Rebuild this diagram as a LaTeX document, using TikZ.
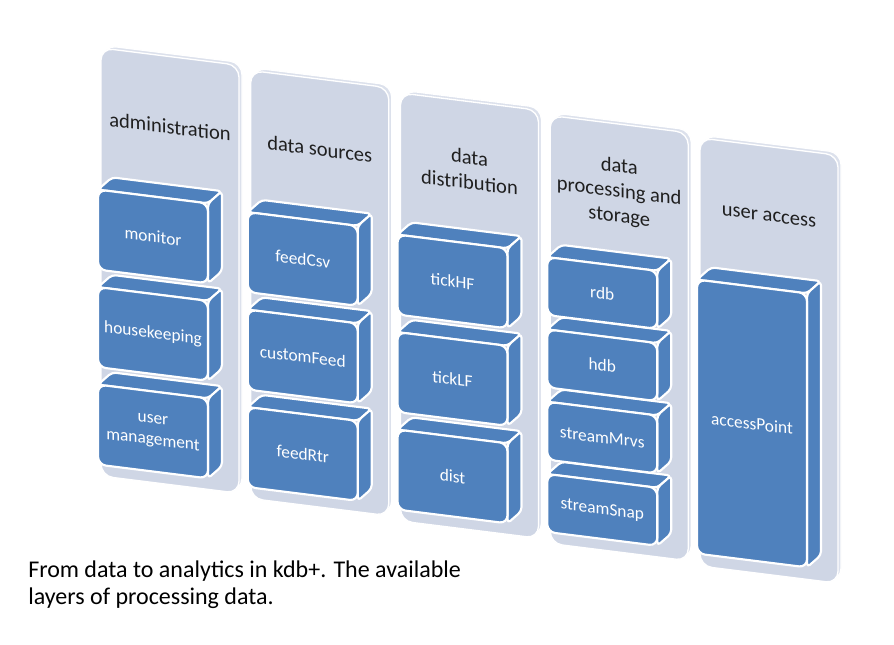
\documentclass[tikz,border=0pt]{standalone}
\usepackage{fontspec}
\setmainfont{Carlito}
\definecolor{panelfill}{HTML}{CFD6E5}
\definecolor{panelrim}{HTML}{DCE1EC}
\definecolor{boxblue}{HTML}{4F81BD}
\tikzset{
  panelfront/.style={fill=panelfill, draw=white, line width=1pt, rounded corners=9pt},
  panelback/.style={fill=panelrim, draw=white, line width=1pt, rounded corners=9pt},
  boxface/.style={fill=boxblue, draw=white, line width=1.6pt, line join=round},
  frontface/.style={boxface, rounded corners=6pt},
  headtext/.style={text=black!88, font=\fontsize{15.4}{18.8}\selectfont, align=center, transform shape, inner sep=0pt},
  boxtext/.style={text=white, font=\fontsize{13}{16}\selectfont, align=center, transform shape, inner sep=0pt},
  captext/.style={text=black, font=\fontsize{18}{20}\selectfont, anchor=base west, inner sep=0pt},
}
\newcommand{\layerbox}[4]{% name, top, height, label
  \draw[boxface, rounded corners=3pt] (-3,#2) -- (11,#2-14) -- (121,#2-14) -- (107,#2) -- cycle;
  \draw[boxface, rounded corners=3pt] (107,#2) -- (121,#2-14) -- (121,#2+#3-14) -- (107,#2+#3) -- cycle;
  \draw[frontface] (-3,#2) rectangle (107,#2+#3);
  \node[boxtext] (#1) at (52,#2+#3/2) {#4};
}
\newcommand{\layerpanel}{%
  \draw[panelback] (3,-3) rectangle (141,425);
  \draw[panelfront] (0,0) rectangle (138,428);
}
\begin{document}
\begin{tikzpicture}[x=0.75pt, y=-0.75pt]
\fill[white] (0,0) rectangle (894,645);
\useasboundingbox (0,0) rectangle (894,645);

% column 1
\begin{scope}[shift={(101,48)}, yslant=-0.125]
  \layerpanel
  \node[headtext] (h1) at (69,70) {administration};
  \layerbox{usermgmt}{337}{80}{user\\management}
  \layerbox{housekeeping}{239.5}{80}{housekeeping}
  \layerbox{monitor}{142}{80}{monitor}
\end{scope}

% column 2
\begin{scope}[shift={(250.75,70.5)}, yslant=-0.125]
  \layerpanel
  \node[headtext] (h2) at (69,70) {data sources};
  \layerbox{feedRtr}{337}{80}{feedRtr}
  \layerbox{customFeed}{239.5}{80}{customFeed}
  \layerbox{feedCsv}{142}{80}{feedCsv}
\end{scope}

% column 3
\begin{scope}[shift={(400.5,93)}, yslant=-0.125]
  \layerpanel
  \node[headtext] (h3) at (69,68) {data\\distribution};
  \layerbox{dist}{337}{80}{dist}
  \layerbox{tickLF}{239.5}{80}{tickLF}
  \layerbox{tickHF}{142}{80}{tickHF}
\end{scope}

% column 4
\begin{scope}[shift={(550.25,115.5)}, yslant=-0.125]
  \layerpanel
  \node[headtext] (h4) at (69,68) {data\\processing and\\storage};
  \layerbox{streamSnap}{358.9}{58}{streamSnap}
  \layerbox{streamMrvs}{286.6}{58}{streamMrvs}
  \layerbox{hdb}{214.3}{58}{hdb}
  \layerbox{rdb}{142}{58}{rdb}
\end{scope}

% column 5
\begin{scope}[shift={(700,138)}, yslant=-0.125]
  \layerpanel
  \node[headtext] (h5) at (69,70) {user access};
  \layerbox{accessPoint}{142}{274}{accessPoint}
\end{scope}

\node[captext] (cap1) at (28,578) {From data to analytics in kdb+. The available};
\node[captext] (cap2) at (28,605) {layers of processing data.};
\end{tikzpicture}
\end{document}
